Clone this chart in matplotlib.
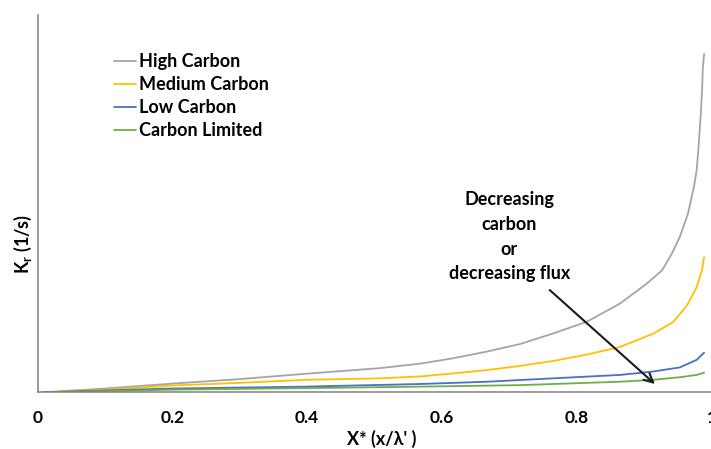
import matplotlib
matplotlib.use("Agg")
import matplotlib.pyplot as plt

plt.rcParams["font.family"] = ["Lato", "DejaVu Sans"]
plt.rcParams["font.weight"] = "bold"
plt.rcParams["mathtext.fontset"] = "custom"
plt.rcParams["mathtext.rm"] = "Lato:bold"
plt.rcParams["mathtext.it"] = "Lato:bold"
plt.rcParams["mathtext.bf"] = "Lato:bold"
plt.rcParams["mathtext.default"] = "rm"

# Reaction rate constant K_r along the normalised position X* (arbitrary units)
high_x = [0.008, 0.100, 0.200, 0.300, 0.397, 0.508, 0.568, 0.616, 0.667, 0.716, 0.765,
          0.815, 0.864, 0.904, 0.927, 0.941, 0.953, 0.965, 0.974, 0.978, 0.981, 0.984,
          0.986, 0.987, 0.989]
high_y = [0.00, 0.10, 0.23, 0.35, 0.49, 0.64, 0.76, 0.90, 1.08, 1.28, 1.56,
          1.87, 2.35, 2.88, 3.24, 3.67, 4.12, 4.73, 5.45, 5.89, 6.55, 7.35,
          8.01, 8.54, 8.97]

med_x = [0.008, 0.100, 0.200, 0.300, 0.397, 0.508, 0.568, 0.616, 0.667, 0.716, 0.765,
         0.815, 0.864, 0.913, 0.943, 0.964, 0.978, 0.986, 0.989]
med_y = [0.00, 0.07, 0.18, 0.25, 0.33, 0.37, 0.42, 0.50, 0.59, 0.70, 0.83,
         1.00, 1.20, 1.55, 1.86, 2.31, 2.79, 3.24, 3.58]

low_x = [0.008, 0.100, 0.200, 0.397, 0.568, 0.667, 0.765, 0.864, 0.913, 0.953, 0.978, 0.989]
low_y = [0.00, 0.05, 0.10, 0.15, 0.22, 0.28, 0.37, 0.46, 0.55, 0.66, 0.86, 1.05]

lim_x = [0.008, 0.100, 0.200, 0.397, 0.568, 0.716, 0.864, 0.913, 0.953, 0.978, 0.989]
lim_y = [0.00, 0.03, 0.07, 0.11, 0.15, 0.19, 0.28, 0.33, 0.40, 0.46, 0.52]

series = [
    ("High Carbon", high_x, high_y, "#A5A5A5"),
    ("Medium Carbon", med_x, med_y, "#FFC000"),
    ("Low Carbon", low_x, low_y, "#4472C4"),
    ("Carbon Limited", lim_x, lim_y, "#70AD47"),
]

x_ticks = [0, 0.2, 0.4, 0.6, 0.8, 1]
x_tick_labels = ["0", "0.2", "0.4", "0.6", "0.8", "1"]

fig = plt.figure(figsize=(7.11, 4.49), dpi=100)
ax = fig.add_axes([37.5 / 711, 56.7 / 449, 674 / 711, 377.3 / 449])

for name, xs, ys, color in series:
    ax.plot(xs, ys, color=color, lw=1.3, label=name,
            solid_capstyle="round", solid_joinstyle="round")

ax.set_xlim(0, 1)
ax.set_ylim(0, 10)
ax.set_xticks(x_ticks)
ax.set_xticklabels(x_tick_labels)
ax.set_yticks([])
ax.tick_params(axis="x", length=0, pad=13, labelsize=12.5)

for side in ("top", "right"):
    ax.spines[side].set_visible(False)
for side in ("left", "bottom"):
    ax.spines[side].set_color("#808080")
    ax.spines[side].set_linewidth(1.1)

ax.set_xlabel("X* (x/λ' )", fontsize=13, fontweight="bold")
ax.xaxis.set_label_coords(0.51, -0.10)
ax.set_ylabel("K$_r$ (1/s)", fontsize=13, fontweight="bold")
ax.yaxis.set_label_coords(-0.005, 0.393)

leg = ax.legend(loc="upper left", bbox_to_anchor=(0.114, 0.898), frameon=False,
                fontsize=13, handlelength=1.2, handletextpad=0.15,
                labelspacing=0.33, borderpad=0, borderaxespad=0)
for t in leg.get_texts():
    t.set_fontweight("bold")

ax.annotate("", xy=(0.916, 0.22), xytext=(0.760, 2.71),
            arrowprops=dict(arrowstyle="->", color="#1a1a1a", lw=1.5,
                            mutation_scale=16, shrinkA=0, shrinkB=0))
ax.text(0.70, 4.12, "Decreasing\ncarbon\nor\ndecreasing flux", ha="center", va="center",
        fontsize=13, fontweight="bold", linespacing=1.55)

fig.savefig("out.png", dpi=100)
